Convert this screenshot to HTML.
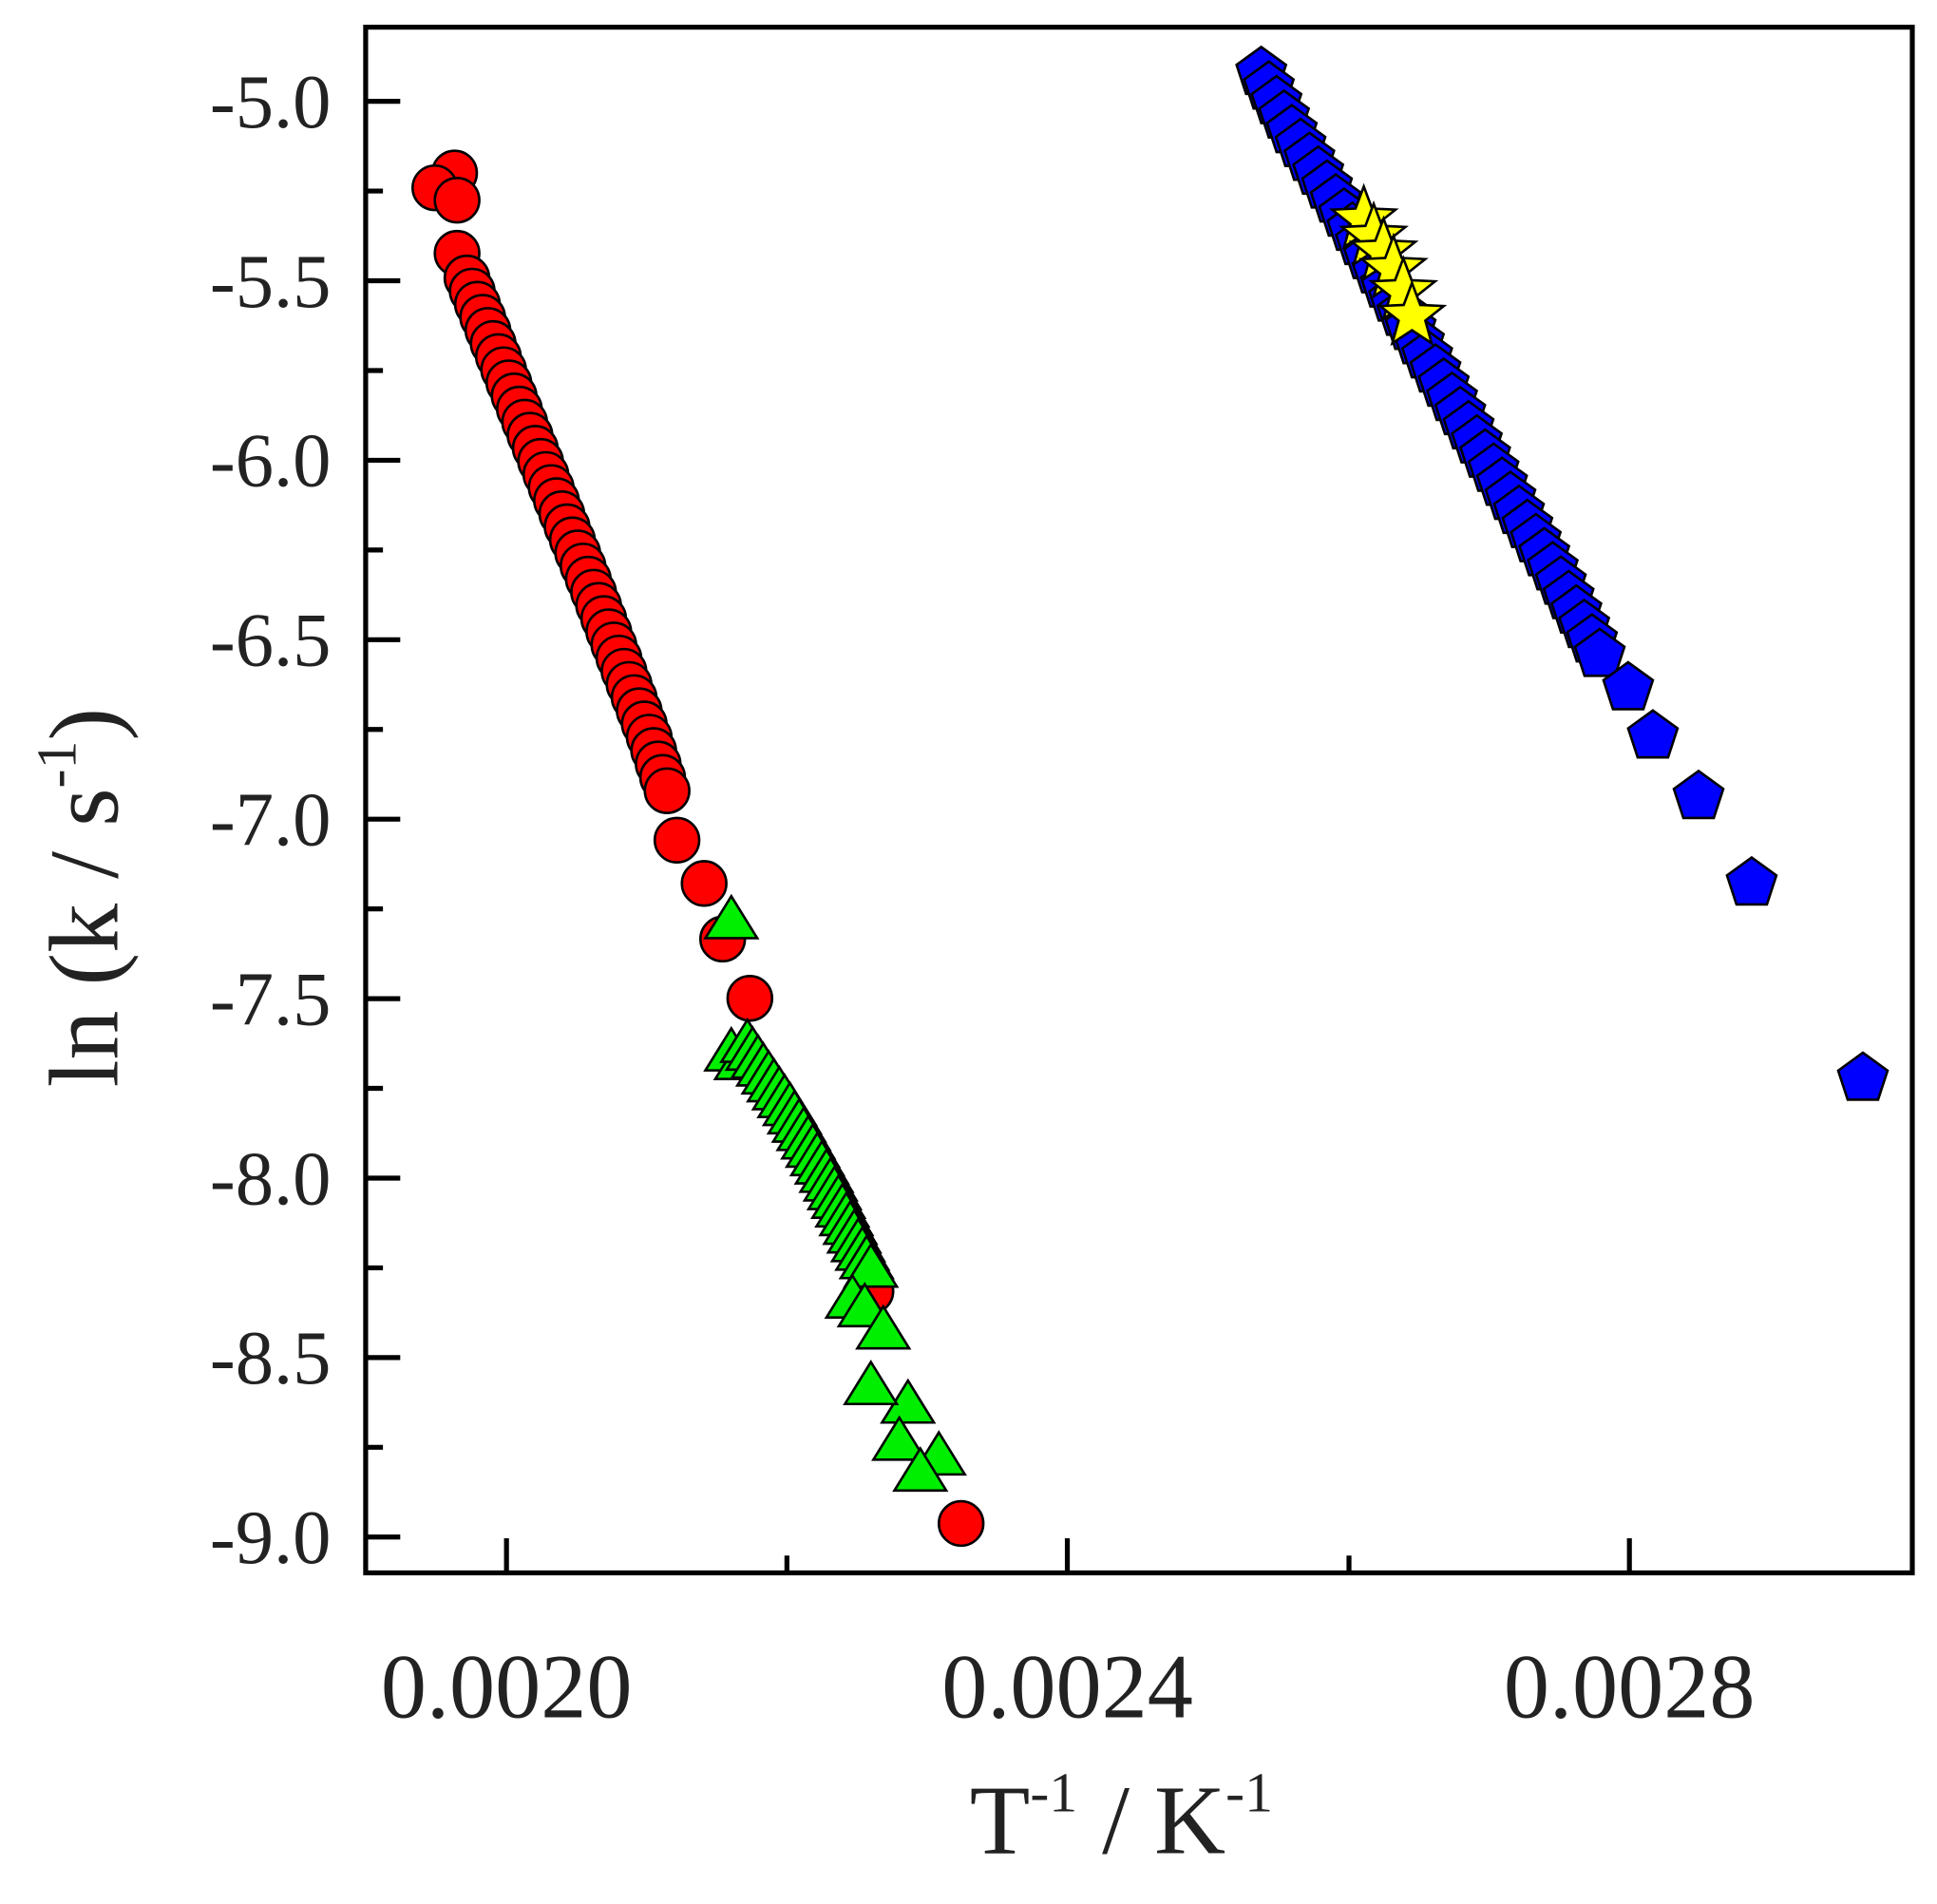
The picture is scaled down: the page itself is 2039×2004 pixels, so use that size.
<!DOCTYPE html>
<html><head><meta charset="utf-8">
<style>html,body{margin:0;padding:0;background:#fff;}svg{display:block;}</style>
</head><body>
<svg id="s" width="2039" height="2004" viewBox="0 0 1568 1541" preserveAspectRatio="none" xmlns="http://www.w3.org/2000/svg">
<rect x="0" y="0" width="1568" height="1541" fill="#fff"/>
<g id="data"></g>
<rect x="296" y="22" width="1252" height="1251" fill="none" stroke="#000" stroke-width="4"/>
<g id="ticks" stroke="#000" stroke-width="4"></g>
<g font-family="'Liberation Serif', serif" fill="#222">
<g font-size="62" text-anchor="end" id="ylab"></g>
<g font-size="74" text-anchor="middle">
<text x="410" y="1390">0.0020</text>
<text x="864" y="1390">0.0024</text>
<text x="1319" y="1390">0.0028</text>
</g>
<text x="785" y="1500" font-size="80">T<tspan font-size="46" dy="-34">-1</tspan><tspan dy="34"> / K</tspan><tspan font-size="46" dy="-34">-1</tspan></text>
<text transform="translate(95,880) rotate(-90)" font-size="80">ln (k  / s<tspan font-size="46" dy="-34">-1</tspan><tspan dy="34">)</tspan></text>
</g>
</svg>
<script>
var NS="http://www.w3.org/2000/svg";
var D=document.getElementById("data"),T=document.getElementById("ticks"),YL=document.getElementById("ylab");
function el(p,n,a){var e=document.createElementNS(NS,n);for(var k in a)e.setAttribute(k,a[k]);p.appendChild(e);return e;}
// y ticks
for(var i=0;i<=16;i++){var y=82+i*145.25/2;var maj=i%2==0;el(T,"line",{x1:296,y1:y,x2:296+(maj?28:14),y2:y});
 if(maj){var t=el(YL,"text",{x:268,y:y+21});t.textContent=(-5-i/4).toFixed(1);}}
// x ticks
[[410,1],[637,0],[864,1],[1092,0],[1319,1]].forEach(function(a){el(T,"line",{x1:a[0],y1:1273,x2:a[0],y2:1273-(a[1]?28:14)});});
function path(pts,n){var L=[0];for(var i=1;i<pts.length;i++)L.push(L[i-1]+Math.hypot(pts[i][0]-pts[i-1][0],pts[i][1]-pts[i-1][1]));var tot=L[L.length-1],out=[];
 for(var k=0;k<n;k++){var d=tot*k/(n-1),j=1;while(j<pts.length-1&&L[j]<d)j++;var f=(d-L[j-1])/(L[j]-L[j-1]);out.push([pts[j-1][0]+f*(pts[j][0]-pts[j-1][0]),pts[j-1][1]+f*(pts[j][1]-pts[j-1][1])]);}return out;}
function circ(x,y){el(D,"circle",{cx:x,cy:y,r:18,fill:"#ff0000",stroke:"#000","stroke-width":2});}
function poly(x,y,r,n,inner,fill,rot){var s="";var m=inner?2*n:n;for(var k=0;k<m;k++){var a=-Math.PI/2+k*2*Math.PI/m;var rr=(inner&&k%2)?r*inner:r;s+=(x+rr*Math.cos(a)).toFixed(1)+","+(y+rr*Math.sin(a)).toFixed(1)+" ";}
 el(D,"polygon",{points:s,fill:fill,stroke:"#000","stroke-width":2,"stroke-linejoin":"miter"});}
function tri(x,y){var h=34,w=21;el(D,"polygon",{points:x+","+(y-h*2/3)+" "+(x+w)+","+(y+h/3)+" "+(x-w)+","+(y+h/3),fill:"#00ee00",stroke:"#000","stroke-width":2});}
// red
[[368,140],[352,152],[370,162],[370,205]].forEach(function(p){circ(p[0],p[1]);});
path([[378,225],[420,330],[480,478],[525,595],[540,640]],40).forEach(function(p){circ(p[0],p[1]);});
[[548,680],[570,715],[585,760],[607,808],[705,1045],[778,1233]].forEach(function(p){circ(p[0],p[1]);});
// green
tri(592,748);
tri(592,855);tri(600,862);
path([[605,848],[640,900],[670,955],[695,1010],[705,1030]],28).forEach(function(p){tri(p[0],p[1]);});
[[690,1055],[700,1062],[715,1080],[735,1140],[760,1182],[705,1125],[728,1170],[745,1195]].forEach(function(p){tri(p[0],p[1]);});
// blue
path([[1021,59],[1045,105],[1080,160],[1130,245],[1200,365],[1260,465],[1295,530]],42).forEach(function(p){poly(p[0],p[1],21,5,0,"#0000ff");});
[[1318,557],[1338,596],[1375,645],[1418,715],[1508,873]].forEach(function(p){poly(p[0],p[1],21,5,0,"#0000ff");});
// stars
[[1104,178],[1112,192],[1120,204],[1128,218],[1136,236],[1143,256]].forEach(function(p){poly(p[0],p[1],27,5,0.42,"#ffff00");});
</script>
</body></html>
